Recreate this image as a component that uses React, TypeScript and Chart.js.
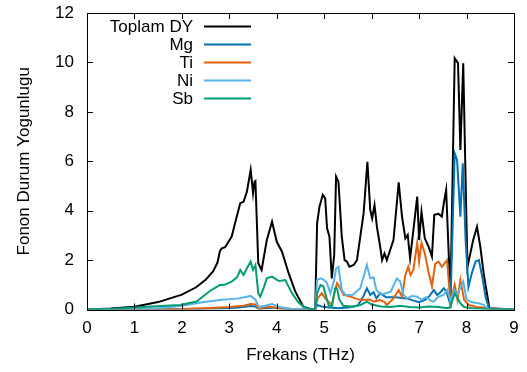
import React, { useEffect, useRef } from "react";
import { Chart, registerables } from "chart.js";

Chart.register(...registerables);

const seriesLabels = ["Toplam DY", "Mg", "Ti", "Ni", "Sb"];
const xTickValues = [0, 1, 2, 3, 4, 5, 6, 7, 8, 9];
const yTickValues = [0, 2, 4, 6, 8, 10, 12];

const totalFreq = [0, 0.5, 1.0, 1.5, 2.0, 2.3, 2.5, 2.66, 2.75, 2.8, 2.84, 2.91, 3.05, 3.12, 3.23, 3.30, 3.37, 3.45, 3.50, 3.53, 3.55, 3.61, 3.68, 3.79, 3.90, 4.0, 4.11, 4.25, 4.39, 4.56, 4.70, 4.81, 4.85, 4.90, 4.97, 5.02, 5.06, 5.11, 5.16, 5.21, 5.25, 5.30, 5.37, 5.43, 5.48, 5.53, 5.62, 5.69, 5.76, 5.83, 5.91, 5.97, 6.01, 6.06, 6.11, 6.18, 6.22, 6.27, 6.32, 6.39, 6.46, 6.57, 6.64, 6.71, 6.76, 6.81, 6.88, 6.96, 7.0, 7.05, 7.12, 7.20, 7.27, 7.32, 7.41, 7.48, 7.52, 7.57, 7.66, 7.75, 7.82, 7.87, 7.93, 8.0, 8.02, 8.08, 8.14, 8.22, 8.29, 8.36, 8.48, 9.0];
const totalDos = [0, 0.04, 0.11, 0.3, 0.6, 0.9, 1.2, 1.55, 1.9, 2.35, 2.48, 2.52, 2.95, 3.49, 4.3, 4.36, 4.77, 5.65, 4.7, 5.17, 5.2, 1.87, 1.6, 2.81, 3.55, 2.74, 2.34, 1.47, 0.72, 0.11, 0.02, 0, 3.49, 4.16, 4.64, 4.5, 3.29, 2.95, 1.26, 2.2, 5.38, 5.17, 2.95, 2.0, 1.94, 1.73, 1.8, 2.0, 2.95, 3.89, 5.98, 4.03, 3.69, 4.23, 3.35, 2.54, 2.0, 2.27, 2.0, 2.41, 2.81, 5.15, 3.76, 2.88, 3.02, 2.07, 3.22, 4.57, 2.81, 3.96, 2.88, 2.54, 2.14, 3.83, 3.87, 3.76, 4.3, 4.84, 0.5, 10.17, 9.97, 6.46, 9.97, 3.35, 1.73, 2.27, 2.81, 3.35, 2.54, 1.47, 0.05, 0];

const mgFreq = [0, 2.0, 2.8, 3.2, 3.45, 3.55, 3.62, 3.8, 3.9, 4.1, 4.4, 4.81, 4.85, 4.95, 5.1, 5.3, 5.5, 5.7, 5.76, 5.83, 5.90, 5.97, 6.04, 6.1, 6.18, 6.3, 6.5, 6.74, 6.9, 7.0, 7.13, 7.22, 7.31, 7.38, 7.45, 7.52, 7.57, 7.66, 7.75, 7.80, 7.87, 7.92, 7.98, 8.04, 8.11, 8.19, 8.26, 8.33, 8.40, 8.48, 9.0];
const mgDos = [0, 0.01, 0.04, 0.08, 0.14, 0.12, 0.02, 0.05, 0.08, 0.03, 0.01, 0, 0.18, 0.12, 0.08, 0.05, 0.08, 0.15, 0.32, 0.55, 0.86, 0.59, 0.7, 0.45, 0.66, 0.5, 0.5, 0.45, 0.35, 0.3, 0.4, 0.55, 0.79, 0.59, 0.7, 0.86, 0.75, 0.2, 6.32, 6.05, 3.76, 5.92, 2.81, 0.92, 1.47, 1.94, 2.0, 1.33, 0.52, 0, 0];

const tiFreq = [0, 2.0, 2.6, 3.0, 3.3, 3.45, 3.55, 3.62, 3.75, 3.86, 4.0, 4.3, 4.81, 4.86, 4.95, 5.02, 5.09, 5.16, 5.23, 5.27, 5.32, 5.41, 5.55, 5.65, 5.79, 5.95, 6.05, 6.18, 6.27, 6.32, 6.46, 6.57, 6.64, 6.71, 6.77, 6.82, 6.88, 6.96, 7.0, 7.05, 7.12, 7.20, 7.27, 7.34, 7.41, 7.48, 7.59, 7.66, 7.75, 7.81, 7.87, 7.95, 8.05, 8.2, 8.35, 8.48, 9.0];
const tiDos = [0, 0.02, 0.06, 0.1, 0.15, 0.22, 0.2, 0.03, 0.08, 0.11, 0.06, 0.01, 0, 0.45, 0.66, 0.45, 0.32, 0.18, 0.79, 1.06, 0.92, 0.59, 0.52, 0.45, 0.38, 0.4, 0.32, 0.38, 0.3, 0.18, 0.45, 0.79, 0.52, 1.4, 1.73, 1.4, 1.6, 2.7, 1.94, 2.7, 2.27, 1.5, 0.95, 1.85, 1.94, 1.73, 2.0, 0.25, 1.0, 0.38, 1.19, 0.38, 0.18, 0.1, 0.08, 0, 0];

const niFreq = [0, 1.5, 2.0, 2.4, 2.8, 3.2, 3.45, 3.55, 3.62, 3.75, 3.9, 4.05, 4.3, 4.6, 4.81, 4.85, 4.92, 5.0, 5.06, 5.13, 5.21, 5.25, 5.30, 5.37, 5.45, 5.6, 5.76, 5.83, 5.90, 5.97, 6.04, 6.1, 6.2, 6.3, 6.4, 6.53, 6.60, 6.67, 6.75, 6.85, 6.96, 7.05, 7.15, 7.25, 7.31, 7.4, 7.52, 7.59, 7.66, 7.74, 7.8, 7.87, 7.93, 8.0, 8.1, 8.25, 8.35, 8.48, 9.0];
const niDos = [0, 0.05, 0.15, 0.28, 0.38, 0.45, 0.55, 0.4, 0.1, 0.15, 0.22, 0.1, 0.03, 0, 0, 1.19, 1.26, 1.19, 1.06, 0.66, 1.19, 1.67, 1.73, 0.79, 0.59, 0.6, 0.86, 1.33, 1.8, 1.26, 1.3, 0.79, 0.6, 0.66, 0.72, 1.26, 1.13, 0.6, 0.45, 0.55, 0.52, 0.4, 0.5, 0.35, 0.32, 0.5, 0.6, 0.79, 0.35, 0.79, 0.6, 0.9, 1.13, 0.4, 0.3, 0.25, 0.2, 0, 0];

const sbFreq = [0, 0.5, 1.26, 1.96, 2.31, 2.59, 2.80, 2.9, 3.05, 3.16, 3.23, 3.30, 3.37, 3.45, 3.50, 3.55, 3.61, 3.65, 3.72, 3.79, 3.90, 4.0, 4.06, 4.18, 4.32, 4.45, 4.56, 4.70, 4.81, 4.85, 4.92, 4.98, 5.03, 5.09, 5.16, 5.23, 5.27, 5.32, 5.40, 5.6, 5.76, 5.90, 6.0, 6.2, 6.4, 6.6, 6.8, 7.0, 7.2, 7.4, 7.6, 7.66, 7.75, 7.80, 7.87, 7.95, 8.1, 8.3, 8.48, 9.0];
const sbDos = [0, 0.02, 0.11, 0.18, 0.32, 0.75, 0.99, 1.0, 1.13, 1.3, 1.6, 1.4, 1.67, 1.94, 1.6, 1.8, 0.66, 0.52, 0.85, 1.26, 1.33, 1.2, 1.15, 1.19, 0.66, 0.3, 0.12, 0.03, 0, 0.66, 0.99, 0.95, 0.6, 0.18, 0.1, 0.86, 0.86, 0.4, 0.15, 0.12, 0.18, 0.32, 0.2, 0.12, 0.1, 0.15, 0.1, 0.08, 0.12, 0.1, 0.05, 0.1, 0.66, 0.5, 0.25, 0.1, 0.05, 0.03, 0, 0];

const seriesFreqs = [totalFreq, mgFreq, tiFreq, niFreq, sbFreq];
const seriesDos = [totalDos, mgDos, tiDos, niDos, sbDos];
const seriesColors = ["#000000", "#0072B2", "#E2620B", "#56B4E9", "#009E73"];

const FONT = "'Liberation Sans', Arial, Helvetica, sans-serif";
const FS = 17;

const framePlugin = {
  id: "frameTicks",
  afterDraw(chart: any) {
    const { ctx, chartArea } = chart;
    const { left, right, top, bottom } = chartArea;
    const xs = chart.scales.x;
    const ys = chart.scales.y;
    ctx.save();
    ctx.strokeStyle = "#000";
    ctx.lineWidth = 1;
    const L = 6;
    ctx.beginPath();
    xTickValues.forEach((v) => {
      if (v === xs.min || v === xs.max) return;
      const px = Math.round(xs.getPixelForValue(v)) + 0.5;
      ctx.moveTo(px, bottom);
      ctx.lineTo(px, bottom - L);
      ctx.moveTo(px, top);
      ctx.lineTo(px, top + L);
    });
    yTickValues.forEach((v) => {
      if (v === ys.min || v === ys.max) return;
      const py = Math.round(ys.getPixelForValue(v)) + 0.5;
      ctx.moveTo(left, py);
      ctx.lineTo(left + L, py);
      ctx.moveTo(right, py);
      ctx.lineTo(right - L, py);
    });
    ctx.stroke();
    ctx.strokeRect(Math.round(left) + 0.5, Math.round(top) + 0.5, Math.round(right - left), Math.round(bottom - top));
    ctx.restore();
  },
};

const legendPlugin = {
  id: "gnuLegend",
  afterDraw(chart: any) {
    const { ctx } = chart;
    ctx.save();
    ctx.font = `${FS}px ${FONT}`;
    ctx.textAlign = "right";
    ctx.textBaseline = "middle";
    chart.data.datasets.forEach((ds: any, i: number) => {
      const y = 26.5 + i * 18;
      ctx.fillStyle = "#000";
      ctx.fillText(ds.label, 193, y + 1);
      ctx.strokeStyle = ds.borderColor;
      ctx.lineWidth = 2;
      ctx.beginPath();
      ctx.moveTo(204, y);
      ctx.lineTo(251, y);
      ctx.stroke();
    });
    ctx.restore();
  },
};

export default function App() {
  const canvasRef = useRef<HTMLCanvasElement | null>(null);

  useEffect(() => {
    if (!canvasRef.current) return;
    const datasets = seriesLabels.map((label, i) => ({
      label,
      data: seriesFreqs[i].map((f, j) => ({ x: f, y: seriesDos[i][j] })),
      borderColor: seriesColors[i],
      backgroundColor: seriesColors[i],
      borderWidth: 2,
      pointRadius: 0,
      tension: 0,
      fill: false,
      order: seriesLabels.length - i,
    }));
    const chart = new Chart(canvasRef.current, {
      type: "line",
      data: { datasets },
      options: {
        animation: false,
        responsive: false,
        maintainAspectRatio: false,
        layout: { padding: { left: 0, right: 13, top: 13, bottom: 0 } },
        plugins: {
          legend: { display: false },
          tooltip: { enabled: false },
        },
        scales: {
          x: {
            type: "linear",
            min: 0,
            max: 9,
            afterBuildTicks: (scale: any) => {
              scale.ticks = xTickValues.map((v) => ({ value: v }));
            },
            afterFit: (scale: any) => {
              scale.height = 62.5;
              scale.paddingLeft = 0;
              scale.paddingRight = 0;
            },
            grid: { display: false, drawTicks: false },
            border: { display: false },
            ticks: {
              color: "#000",
              font: { family: FONT, size: FS },
              padding: 9,
              maxRotation: 0,
            },
            title: {
              display: true,
              text: "Frekans (THz)",
              color: "#000",
              font: { family: FONT, size: FS },
              padding: { top: 0, bottom: 6 },
            },
          },
          y: {
            type: "linear",
            min: 0,
            max: 12,
            afterBuildTicks: (scale: any) => {
              scale.ticks = yTickValues.map((v) => ({ value: v }));
            },
            afterFit: (scale: any) => {
              scale.width = 87;
              scale.paddingTop = 0;
              scale.paddingBottom = 0;
            },
            grid: { display: false, drawTicks: false },
            border: { display: false },
            ticks: {
              color: "#000",
              font: { family: FONT, size: FS },
              padding: 13,
            },
            title: {
              display: true,
              text: "Fonon Durum Yogunlugu",
              color: "#000",
              font: { family: FONT, size: FS },
              padding: { top: 14, bottom: 0 },
            },
          },
        },
      },
      plugins: [framePlugin, legendPlugin],
    });
    return () => chart.destroy();
  }, []);

  return (
    <div style={{ position: "fixed", left: 0, top: 0, width: 527, height: 372, background: "#fff" }}>
      <canvas ref={canvasRef} width={527} height={372} style={{ width: 527, height: 372 }} />
    </div>
  );
}
